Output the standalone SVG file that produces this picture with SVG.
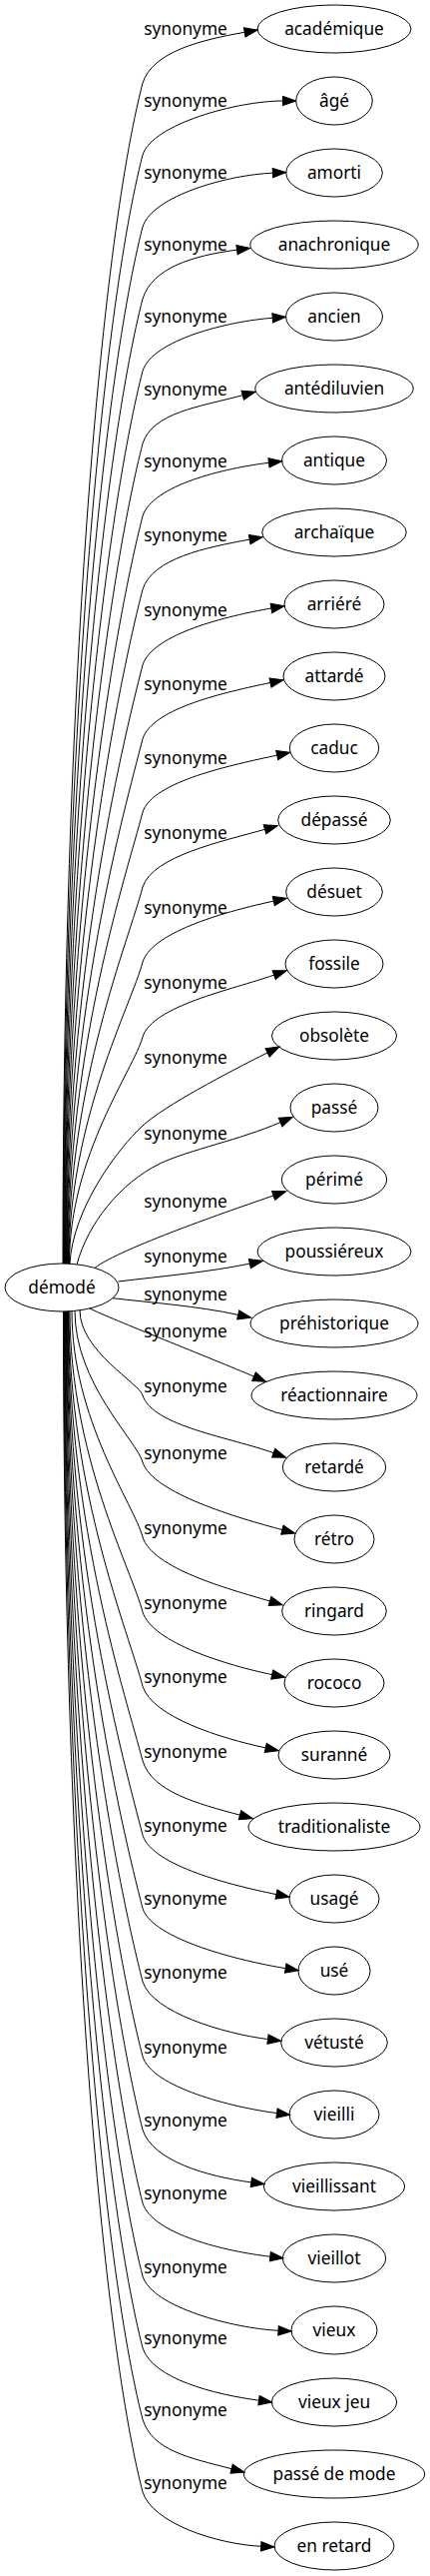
<svg xmlns="http://www.w3.org/2000/svg" width="431" height="2579" viewBox="0 0 431 2579">
<style>
.node ellipse{fill:none;stroke:#000;stroke-width:1}
text{font-family:"Noto Sans","DejaVu Sans",sans-serif;font-size:17.3px;fill:#000;text-anchor:middle}
.edges path{fill:none;stroke:#000;stroke-width:1;marker-end:url(#arr)}
</style>
<defs>
<marker id="arr" viewBox="0 0 14 10" refX="0" refY="4.7" markerWidth="14" markerHeight="10" orient="auto" markerUnits="userSpaceOnUse" style="overflow:visible">
<path d="M0,0 L13.3,4.7 L0,9.4 z" fill="#000" stroke="#000" stroke-width="1"/>
</marker>
</defs>
<rect width="431" height="2579" fill="#fff"/>
<g id="edges" class="edges">
<path d="M63,1265 C63,697.6 100,250 143,83 C153,52 200.9,40 245.2,32.3"/>
<path d="M63.5,1265 C63.5,732.2 102.6,312 143,155 C153,124 238.4,101 283.4,101"/>
<path d="M64,1265 C64,766.8 105.2,373.8 143,227 C153,196 228.5,175 273.4,173.2"/>
<path d="M64.5,1265 C64.5,801.3 107.8,435.6 143,299 C153,268 192.9,256.1 237.5,250.1"/>
<path d="M65,1265 C65,836 110.4,497.7 143,371.3 C153,340.3 228.3,321.6 273.2,318.3"/>
<path d="M65.5,1265 C65.5,870.9 113.1,560.1 143,444 C153,413 199.7,407.3 243.2,395.7"/>
<path d="M66,1265 C66,905.8 115.7,622.6 143,516.7 C153,485.7 224.8,468.7 269.5,463.3"/>
<path d="M66.5,1265 C66.5,941 118.4,685.5 143,590 C153,559 205.9,548.2 250.2,540.1"/>
<path d="M67,1265 C67,977.3 121.2,750.4 143,665.7 C153,634.7 227.6,616.6 271.9,609"/>
<path d="M67.5,1265 C67.5,1012.9 123.9,814 143,739.7 C153,708.7 227,692.8 271,683.5"/>
<path d="M68,1265 C68,1048 126.5,877 143,813 C153,782 233.7,765.7 277.7,756.1"/>
<path d="M68.5,1265 C68.5,1084 129.3,941.3 143,888 C153,857 222.2,842.6 265.5,830.3"/>
<path d="M69,1265 C69,1120 132,1005.8 143,963 C153,932 230.3,911.7 274.3,902.1"/>
<path d="M69.5,1265 C69.5,1156 134.7,1070.1 143,1038 C153,1007 232.2,991 274.7,976.1"/>
<path d="M70,1265 C73,1210 118,1150 143,1127 C165,1107 227.9,1074 268.1,1053.9"/>
<path d="M77,1266 C88,1225 120,1185 160,1165 C190,1151 239.8,1141.4 281.1,1123.6"/>
<path d="M95,1269.4 C120,1250 231.5,1211.6 274.1,1197"/>
<path d="M118.5,1283 C160,1278 210,1273.5 250.4,1265.1"/>
<path d="M113,1299.7 C150,1304 199.7,1307.7 238.7,1316.4"/>
<path d="M90,1310 C110,1320 213.1,1360.4 254.5,1378.1"/>
<path d="M80,1311.8 C80,1352.7 139.9,1385 143,1397 C153,1428 232,1439.2 274.2,1454.7"/>
<path d="M75,1312.4 C75,1385.5 137.5,1442.6 143,1464 C153,1495 239.4,1520 282.9,1531.6"/>
<path d="M72,1312.6 C72,1421.5 134.8,1507.1 143,1539 C153,1570 227.3,1590.4 270.5,1603"/>
<path d="M70,1312.8 C70,1457.5 132,1571.4 143,1614 C153,1645 228.6,1667.4 272.7,1676.6"/>
<path d="M69,1313 C69,1493.1 129.3,1635.2 143,1688.3 C153,1719.3 222.3,1740.5 266.3,1749.9"/>
<path d="M68.5,1313 C68.5,1529 126.6,1699.4 143,1763 C153,1794 197.1,1805.5 240.5,1817.2"/>
<path d="M68,1313 C68,1564.7 123.9,1763.2 143,1837.3 C153,1868.3 232.9,1887.6 277,1896.6"/>
<path d="M67.5,1313 C67.5,1599.9 121.2,1826.2 143,1910.7 C153,1941.7 241.7,1963.5 286.2,1970.6"/>
<path d="M67,1313 C67,1635.1 118.6,1889.1 143,1984 C153,2015 223.9,2035.8 268.5,2041.6"/>
<path d="M66.5,1313 C66.5,1671.1 115.8,1953.5 143,2059 C153,2090 232.9,2109.8 277.5,2115.6"/>
<path d="M66,1313 C66,1706.3 113.2,2016.4 143,2132.3 C153,2163.3 207.2,2178.9 251.8,2184.9"/>
<path d="M65.5,1313 C65.5,1741.5 110.5,2079.4 143,2205.7 C153,2236.7 226.1,2254.1 270.8,2259.2"/>
<path d="M65,1313 C65,1776.7 107.8,2142.4 143,2279 C153,2310 234,2331 279,2333.3"/>
<path d="M64.5,1313 C64.5,1811.1 105.2,2203.9 143,2350.7 C153,2381.7 214.9,2397.2 259.5,2403.2"/>
<path d="M64,1313 C64,1845.5 102.6,2265.5 143,2422.3 C153,2453.3 188.5,2460.4 232.1,2471.7"/>
<path d="M63.5,1313 C63.5,1880.4 100,2328 143,2495 C153,2526 216.7,2547 261.7,2549.3"/>
</g>
<g id="edge-labels">
<text x="186" y="34.5">synonyme</text>
<text x="186" y="106.5">synonyme</text>
<text x="186" y="178.5">synonyme</text>
<text x="186" y="250.5">synonyme</text>
<text x="186" y="322.8">synonyme</text>
<text x="186" y="395.5">synonyme</text>
<text x="186" y="468.2">synonyme</text>
<text x="186" y="541.5">synonyme</text>
<text x="186" y="617.2">synonyme</text>
<text x="186" y="691.2">synonyme</text>
<text x="186" y="764.5">synonyme</text>
<text x="186" y="839.5">synonyme</text>
<text x="186" y="914.5">synonyme</text>
<text x="186" y="989.5">synonyme</text>
<text x="186" y="1064.5">synonyme</text>
<text x="186" y="1140.5">synonyme</text>
<text x="186" y="1208.5">synonyme</text>
<text x="186" y="1263.5">synonyme</text>
<text x="186" y="1301.5">synonyme</text>
<text x="186" y="1338.5">synonyme</text>
<text x="186" y="1393.5">synonyme</text>
<text x="186" y="1460.5">synonyme</text>
<text x="186" y="1535.5">synonyme</text>
<text x="186" y="1610.5">synonyme</text>
<text x="186" y="1684.8">synonyme</text>
<text x="186" y="1759.5">synonyme</text>
<text x="186" y="1833.8">synonyme</text>
<text x="186" y="1907.2">synonyme</text>
<text x="186" y="1980.5">synonyme</text>
<text x="186" y="2055.5">synonyme</text>
<text x="186" y="2128.8">synonyme</text>
<text x="186" y="2202.2">synonyme</text>
<text x="186" y="2275.5">synonyme</text>
<text x="186" y="2347.2">synonyme</text>
<text x="186" y="2418.8">synonyme</text>
<text x="186" y="2491.5">synonyme</text>
</g>
<g id="demode" class="node"><ellipse cx="62" cy="1289" rx="57" ry="24"/><text x="62" y="1294.5">démodé</text></g>
<g id="n0" class="node"><ellipse cx="335" cy="29" rx="77" ry="24"/><text x="335" y="34.5">académique</text></g>
<g id="n1" class="node"><ellipse cx="335" cy="101" rx="38.3" ry="24"/><text x="335" y="106.5">âgé</text></g>
<g id="n2" class="node"><ellipse cx="335" cy="173" rx="48.3" ry="24"/><text x="335" y="178.5">amorti</text></g>
<g id="n3" class="node"><ellipse cx="335" cy="245" rx="84.2" ry="24"/><text x="335" y="250.5">anachronique</text></g>
<g id="n4" class="node"><ellipse cx="335" cy="317" rx="48.5" ry="24"/><text x="335" y="322.5">ancien</text></g>
<g id="n5" class="node"><ellipse cx="335" cy="389" rx="79.2" ry="24"/><text x="335" y="394.5">antédiluvien</text></g>
<g id="n6" class="node"><ellipse cx="335" cy="461" rx="52.5" ry="24"/><text x="335" y="466.5">antique</text></g>
<g id="n7" class="node"><ellipse cx="335" cy="533" rx="72.3" ry="24"/><text x="335" y="538.5">archaïque</text></g>
<g id="n8" class="node"><ellipse cx="335" cy="605" rx="50" ry="24"/><text x="335" y="610.5">arriéré</text></g>
<g id="n9" class="node"><ellipse cx="335" cy="677" rx="51" ry="24"/><text x="335" y="682.5">attardé</text></g>
<g id="n10" class="node"><ellipse cx="335" cy="749" rx="44.7" ry="24"/><text x="335" y="754.5">caduc</text></g>
<g id="n11" class="node"><ellipse cx="335" cy="821" rx="56.3" ry="24"/><text x="335" y="826.5">dépassé</text></g>
<g id="n12" class="node"><ellipse cx="335" cy="893" rx="48.3" ry="24"/><text x="335" y="898.5">désuet</text></g>
<g id="n13" class="node"><ellipse cx="335" cy="965" rx="49" ry="24"/><text x="335" y="970.5">fossile</text></g>
<g id="n14" class="node"><ellipse cx="335" cy="1037" rx="62.5" ry="24"/><text x="335" y="1042.5">obsolète</text></g>
<g id="n15" class="node"><ellipse cx="335" cy="1109" rx="44" ry="24"/><text x="335" y="1114.5">passé</text></g>
<g id="n16" class="node"><ellipse cx="335" cy="1181" rx="52.7" ry="24"/><text x="335" y="1186.5">périmé</text></g>
<g id="n17" class="node"><ellipse cx="335" cy="1253" rx="77" ry="24"/><text x="335" y="1258.5">poussiéreux</text></g>
<g id="n18" class="node"><ellipse cx="335" cy="1325" rx="84" ry="24"/><text x="335" y="1330.5">préhistorique</text></g>
<g id="n19" class="node"><ellipse cx="335" cy="1397" rx="83" ry="24"/><text x="335" y="1402.5">réactionnaire</text></g>
<g id="n20" class="node"><ellipse cx="335" cy="1469" rx="51.7" ry="24"/><text x="335" y="1474.5">retardé</text></g>
<g id="n21" class="node"><ellipse cx="335" cy="1541" rx="40" ry="24"/><text x="335" y="1546.5">rétro</text></g>
<g id="n22" class="node"><ellipse cx="335" cy="1613" rx="52.3" ry="24"/><text x="335" y="1618.5">ringard</text></g>
<g id="n23" class="node"><ellipse cx="335" cy="1685" rx="50" ry="24"/><text x="335" y="1690.5">rococo</text></g>
<g id="n24" class="node"><ellipse cx="335" cy="1757" rx="56" ry="24"/><text x="335" y="1762.5">suranné</text></g>
<g id="n25" class="node"><ellipse cx="335" cy="1829" rx="86" ry="24"/><text x="335" y="1834.5">traditionaliste</text></g>
<g id="n26" class="node"><ellipse cx="335" cy="1901" rx="45" ry="24"/><text x="335" y="1906.5">usagé</text></g>
<g id="n27" class="node"><ellipse cx="335" cy="1973" rx="36" ry="24"/><text x="335" y="1978.5">usé</text></g>
<g id="n28" class="node"><ellipse cx="335" cy="2045" rx="53.3" ry="24"/><text x="335" y="2050.5">vétusté</text></g>
<g id="n29" class="node"><ellipse cx="335" cy="2117" rx="45" ry="24"/><text x="335" y="2122.5">vieilli</text></g>
<g id="n30" class="node"><ellipse cx="335" cy="2189" rx="70.7" ry="24"/><text x="335" y="2194.5">vieillissant</text></g>
<g id="n31" class="node"><ellipse cx="335" cy="2261" rx="51.7" ry="24"/><text x="335" y="2266.5">vieillot</text></g>
<g id="n32" class="node"><ellipse cx="335" cy="2333" rx="43" ry="24"/><text x="335" y="2338.5">vieux</text></g>
<g id="n33" class="node"><ellipse cx="335" cy="2405" rx="62.7" ry="24"/><text x="335" y="2410.5">vieux jeu</text></g>
<g id="n34" class="node"><ellipse cx="335" cy="2477" rx="90.7" ry="24"/><text x="335" y="2482.5">passé de mode</text></g>
<g id="n35" class="node"><ellipse cx="335" cy="2549" rx="60" ry="24"/><text x="335" y="2554.5">en retard</text></g>
</svg>
